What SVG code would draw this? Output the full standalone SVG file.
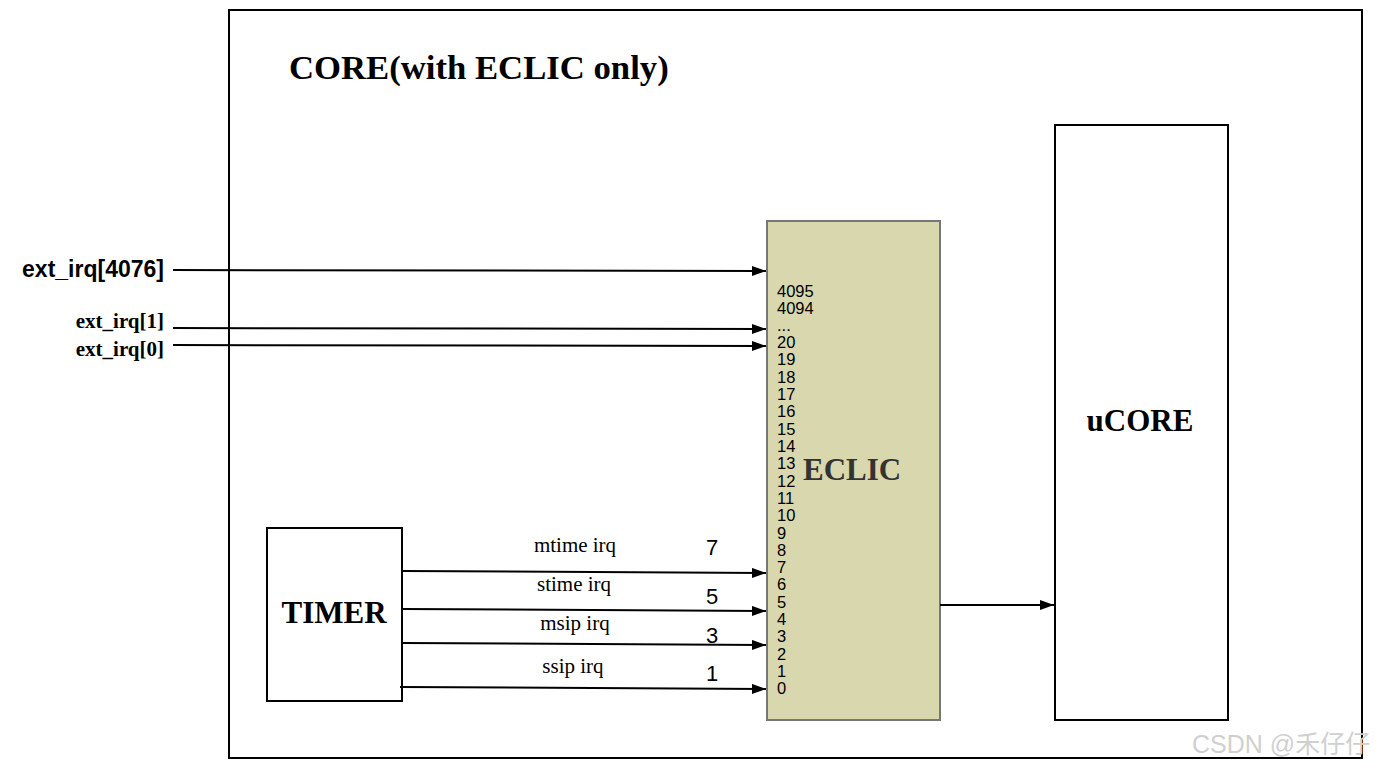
<svg xmlns="http://www.w3.org/2000/svg" width="1376" height="767" viewBox="0 0 1376 767">
<style>
.box{fill:#fff;stroke:#000;stroke-width:2}
.serifb{font-family:"Liberation Serif",serif;font-weight:bold}
.serif{font-family:"Liberation Serif",serif;font-size:21px}
.sans{font-family:"Liberation Sans",sans-serif}
.num{font-family:"Liberation Sans",sans-serif;font-size:16.5px;fill:#000}
.conn line{stroke:#000;stroke-width:2;marker-end:url(#ah)}
</style>
<defs>
<marker id="ah" markerWidth="14" markerHeight="10" refX="14" refY="5" orient="auto" markerUnits="userSpaceOnUse">
<path d="M0,0 L14,5 L0,10 z" fill="#000"/>
</marker>
</defs>
<rect width="1376" height="767" fill="#fff"/>
<g id="core">
<rect x="229" y="10" width="1133" height="748" class="box"/>
<text x="289" y="79" class="serifb" font-size="34.7">CORE(with ECLIC only)</text>
</g>
<g id="eclic">
<rect x="767" y="221" width="173" height="499" fill="#d9d7ae" stroke="#777" stroke-width="2"/>
<g class="num">
<text x="777" y="297">4095</text>
<text x="777" y="314">4094</text>
<text x="777" y="331">...</text>
<text x="777" y="348">20</text>
<text x="777" y="365">19</text>
<text x="777" y="383">18</text>
<text x="777" y="400">17</text>
<text x="777" y="417">16</text>
<text x="777" y="435">15</text>
<text x="777" y="452">14</text>
<text x="777" y="469">13</text>
<text x="777" y="487">12</text>
<text x="777" y="504">11</text>
<text x="777" y="521">10</text>
<text x="777" y="539">9</text>
<text x="777" y="556">8</text>
<text x="777" y="573">7</text>
<text x="777" y="590">6</text>
<text x="777" y="608">5</text>
<text x="777" y="625">4</text>
<text x="777" y="642">3</text>
<text x="777" y="660">2</text>
<text x="777" y="677">1</text>
<text x="777" y="694">0</text>
</g>
<text x="803" y="480" class="serifb" font-size="31" fill="#333">ECLIC</text>
</g>
<g id="ucore">
<rect x="1055" y="125" width="173" height="595" class="box"/>
<text x="1140" y="431" class="serifb" font-size="31" text-anchor="middle">uCORE</text>
</g>
<g id="timer">
<rect x="267" y="528" width="135" height="173" class="box"/>
<text x="334" y="623" class="serifb" font-size="31" text-anchor="middle">TIMER</text>
</g>
<g id="labels">
<text x="164" y="277" class="sans" font-weight="bold" font-size="23" text-anchor="end">ext_irq[4076]</text>
<text x="164" y="328" class="serifb" font-size="21" text-anchor="end">ext_irq[1]</text>
<text x="164" y="356" class="serifb" font-size="21" text-anchor="end">ext_irq[0]</text>
<text x="575" y="552" class="serif" text-anchor="middle">mtime irq</text>
<text x="574" y="591" class="serif" text-anchor="middle">stime irq</text>
<text x="575" y="630" class="serif" text-anchor="middle">msip irq</text>
<text x="573" y="673" class="serif" text-anchor="middle">ssip irq</text>
<text x="712" y="555" class="sans" font-size="22" text-anchor="middle">7</text>
<text x="712" y="604" class="sans" font-size="22" text-anchor="middle">5</text>
<text x="712" y="643" class="sans" font-size="22" text-anchor="middle">3</text>
<text x="712" y="681" class="sans" font-size="22" text-anchor="middle">1</text>
</g>
<g id="connectors" class="conn">
<line x1="173" y1="270" x2="766" y2="271"/>
<line x1="173" y1="328" x2="766" y2="329"/>
<line x1="173" y1="345" x2="766" y2="346"/>
<line x1="402" y1="571" x2="766" y2="573"/>
<line x1="402" y1="609" x2="766" y2="611"/>
<line x1="402" y1="643" x2="766" y2="645"/>
<line x1="400" y1="687" x2="766" y2="689"/>
<line x1="940" y1="605" x2="1054" y2="605"/>
</g>
<text x="1192" y="753" font-family="'Liberation Sans','Noto Sans CJK SC',sans-serif" font-size="25" fill="#d0d0d0">CSDN @禾仔仔</text>
</svg>
